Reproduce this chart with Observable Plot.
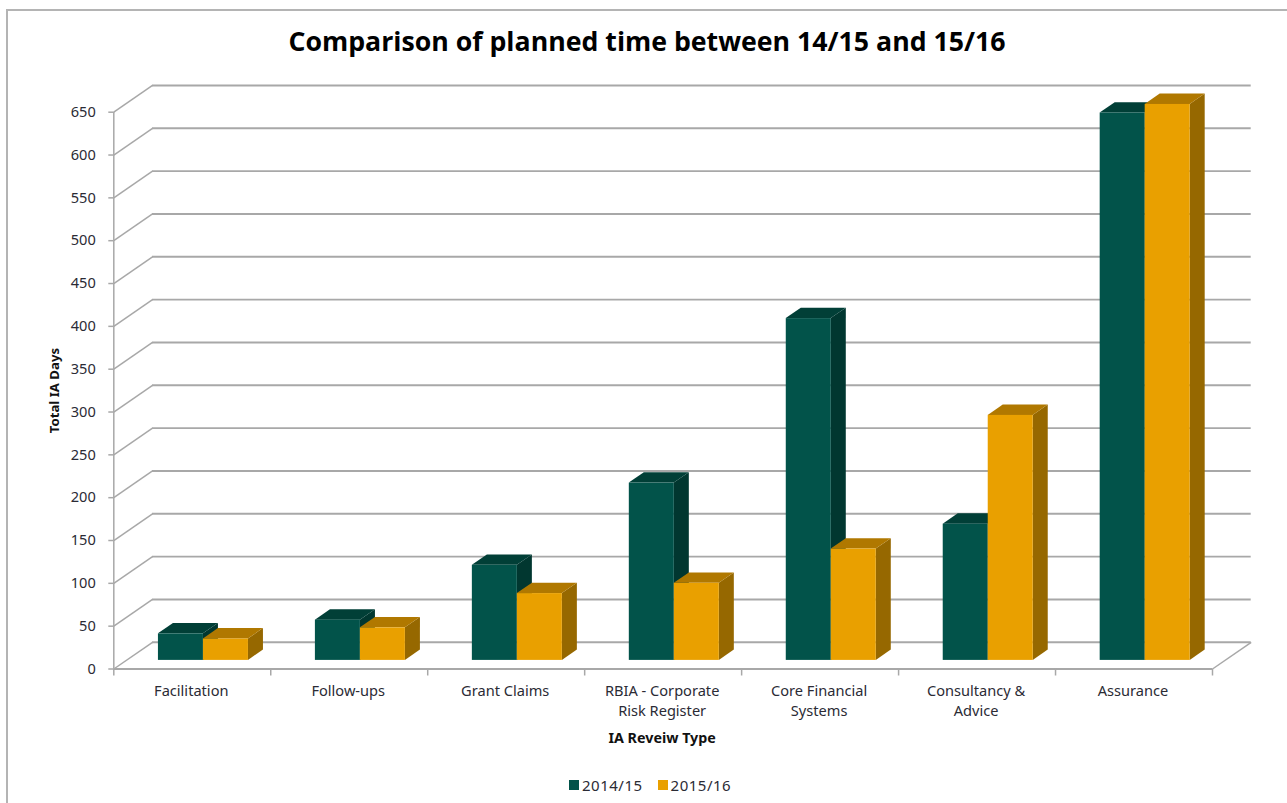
<!DOCTYPE html>
<html>
<head>
<meta charset="utf-8">
<script src="https://cdn.jsdelivr.net/npm/d3@7"></script>
<script src="https://cdn.jsdelivr.net/npm/@observablehq/plot@0.6"></script>
<style>
  html, body { margin: 0; padding: 0; background: #fff; overflow: hidden; }
  #page { position: relative; width: 1287px; height: 803px; overflow: hidden; }
  #frame { position: absolute; left: 6px; top: 9px; right: -6px; bottom: -6px; border: 2px solid #b4b4b4; }
  #title { position: relative; height: 62px; margin: 0; padding-left: 7px; box-sizing: border-box; text-align: center; font: 700 26.7px/82px "Open Sans", sans-serif; color: #000; white-space: pre; }
  #plot { position: relative; height: 708px; }
  #plot svg { display: block; }
  #legend { position: absolute; top: 776px; left: 569px; display: flex; align-items: center; font: 15px/18px "Noto Sans", sans-serif; letter-spacing: .5px; color: #2b2b35; }
  #legend i { display: inline-block; width: 10px; height: 10px; margin-right: 3px; }
  #legend span { display: inline-flex; align-items: center; margin-right: 15px; }
</style>
</head>
<body>
<div id="page">
  <div id="frame"></div>
  <div id="title">Comparison of planned time between 14/15 and 15/16</div>
  <div id="plot"></div>
  <div id="legend"></div>
</div>
<script>
// Planned internal-audit days per review type
const categories = [
  "Facilitation", "Follow-ups", "Grant Claims", "RBIA - Corporate\nRisk Register",
  "Core Financial\nSystems", "Consultancy &\nAdvice", "Assurance"
];
const seriesNames = ["2014/15", "2015/16"];
const days1415 = [31, 47, 111, 207, 399, 159, 639];
const days1516 = [25, 38, 78, 90, 130, 286, 649];
const valueTicks = d3.range(0, 651, 50);

const palette = {
  "2014/15": {front: "#02534a", top: "#013f37", side: "#013730"},
  "2015/16": {front: "#e9a000", top: "#b07800", side: "#966800"}
};
const gridColor = "#a8a8a8";
const textColor = "#2b2b35";
const font = "Noto Sans";

// Oblique projection: the depth axis shifts a point right and up, in data units
const wallX = 0.2466, wallY = 31.2;
const barNear = 0.322, barFar = 0.71;
const barInset = 0.205, barWidth = 0.2867;

const bars = seriesNames.flatMap((series, s) =>
  categories.map((category, i) => {
    const x1 = i + barInset + s * barWidth;
    return {series, category, key: `${series}-${i}`, value: (s ? days1516 : days1415)[i], x1, x2: x1 + barWidth};
  })
);

const nearBack = (b) => [
  {...b, xShift: barNear * wallX, yShift: barNear * wallY},
  {...b, xShift: barFar * wallX, yShift: barFar * wallY}
];

// One bar's three faces for a series; the near face goes last so it covers its neighbours
function barFaces(series) {
  const own = bars.filter((b) => b.series === series);
  const skew = own.flatMap(nearBack);
  const c = palette[series];
  return [
    Plot.areaY(skew, {
      x: (d) => d.x2 + d.xShift, y1: (d) => d.yShift, y2: (d) => d.value + d.yShift,
      z: "key", fill: c.side
    }),
    Plot.areaX(skew, {
      y: (d) => d.value + d.yShift, x1: (d) => d.x1 + d.xShift, x2: (d) => d.x2 + d.xShift,
      z: "key", fill: c.top
    }),
    Plot.rect(own, {
      x1: (d) => d.x1 + barNear * wallX, x2: (d) => d.x2 + barNear * wallX,
      y1: barNear * wallY, y2: (d) => d.value + barNear * wallY,
      fill: c.front, inset: 0
    })
  ];
}

const plotTop = 62, plotHeight = 708;
const chart = Plot.plot({
  width: 1287,
  height: plotHeight,
  marginLeft: 113.3,
  marginRight: 75,
  marginTop: 111.7 - plotTop,
  marginBottom: plotHeight - (668.5 - plotTop),
  x: {domain: [0, categories.length]},
  y: {domain: [0, 650]},
  style: {background: "transparent", fontFamily: font, overflow: "visible"},
  marks: [
    // Back wall, its returns to the front plane and the floor edge
    Plot.ruleY(valueTicks, {y: (d) => d + wallY, x1: wallX, x2: categories.length + wallX, stroke: gridColor, strokeWidth: 1.9}),
    Plot.link(valueTicks, {x1: 0, x2: wallX, y1: (d) => d, y2: (d) => d + wallY, stroke: gridColor, strokeWidth: 1.5}),
    Plot.link([0], {x1: categories.length, x2: categories.length + wallX, y1: 0, y2: wallY, stroke: gridColor, strokeWidth: 1.5}),
    Plot.ruleX([0], {y1: 0, y2: 650, stroke: gridColor, strokeWidth: 1.5}),
    Plot.ruleY([0], {x1: 0, x2: categories.length, stroke: gridColor, strokeWidth: 1.9}),

    Plot.axisY({
      ticks: valueTicks, tickSize: 5, tickPadding: 13, stroke: gridColor, fill: textColor,
      strokeWidth: 1.5, fontSize: 14.6, label: null
    }),
    Plot.axisX({
      ticks: d3.range(0, categories.length + 1), tickSize: 7, tickPadding: 0, tickFormat: () => "",
      stroke: gridColor, strokeWidth: 1.5, label: null
    }),

    ...seriesNames.flatMap(barFaces),

    Plot.text(categories, {
      x: (d, i) => i + 0.5, y: 0, dx: -1, dy: 13, lineAnchor: "top", lineHeight: 1.37,
      text: (d) => d, fill: textColor, fontSize: 14.6
    }),
    Plot.text(["IA Reveiw Type"], {
      x: categories.length / 2, y: 0, dx: -1, dy: 69, text: (d) => d, fill: "#111", fontSize: 14.3, fontWeight: 700
    }),
    Plot.text(["Total IA Days"], {
      x: 0, y: 325, dx: -59, rotate: -90, text: (d) => d, fill: "#111", fontSize: 13.2, fontWeight: 700
    })
  ]
});
document.getElementById("plot").append(chart);

// Series key below the chart
const legendBox = document.getElementById("legend");
for (const name of seriesNames) {
  const item = document.createElement("span");
  const swatch = document.createElement("i");
  swatch.style.background = palette[name].front;
  item.append(swatch, name);
  legendBox.append(item);
}
</script>
</body>
</html>
